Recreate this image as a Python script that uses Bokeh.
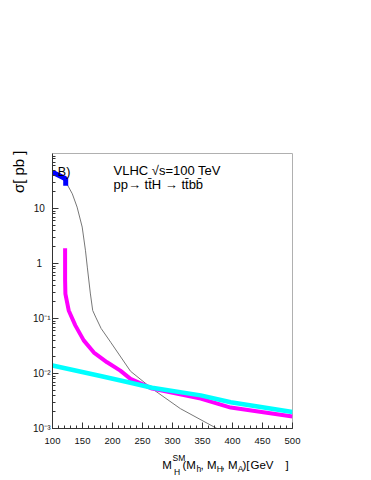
from bokeh.plotting import figure
from bokeh.models import Label, FixedTicker
from bokeh.embed import file_html
from bokeh.resources import INLINE
import math

# ---- data ----
m_sm = [100, 102, 116, 124, 133, 141, 149.5, 155, 158, 163, 167, 172, 181, 197, 230, 266, 313, 374, 390]
xs_sm = [50, 43, 35, 28, 18.5, 10.6, 4.6, 1.7, 0.86, 0.29, 0.14, 0.106, 0.066, 0.037, 0.011, 0.0053, 0.0023, 0.001, 0.0008]

m_blue = [100, 111, 120, 122, 122]
xs_blue = [45.7, 39.8, 35.5, 35.0, 26.0]

m_mag = [121, 121, 121.5, 127, 138, 152, 169, 191, 213, 230, 266, 347, 397, 500]
xs_mag = [1.9, 0.5, 0.28, 0.14, 0.075, 0.04, 0.024, 0.016, 0.0113, 0.008, 0.0053, 0.0035, 0.0024, 0.00165]

m_cyan = [100, 180, 230, 266, 347, 397, 500]
xs_cyan = [0.014, 0.009, 0.0068, 0.0055, 0.004, 0.003, 0.002]

x_ticks = [100, 150, 200, 250, 300, 350, 400, 450, 500]
y_ticks = [1e-3, 1e-2, 1e-1, 1, 10]
y_tick_labels = ["10\u207b\u00b3", "10\u207b\u00b2", "10\u207b\u00b9", "1\u00a0\u00a0\u00a0", "10\u00a0\u00a0"]

FONT = "Liberation Sans"

p = figure(width=370, height=478, x_range=(100, 500), y_range=(1e-3, 1e2),
           y_axis_type="log", output_backend="svg", toolbar_location=None,
           min_border_left=52, min_border_right=78, min_border_top=153, min_border_bottom=50)
p.grid.visible = False
p.outline_line_color = "#b0b0b0"
p.outline_line_width = 1
p.background_fill_color = "white"
p.border_fill_color = "white"

p.xaxis.ticker = FixedTicker(ticks=x_ticks, minor_ticks=list(range(100, 501, 10)))
minors = []
for e in range(-3, 2):
    for k in range(2, 10):
        minors.append(k * 10 ** e)
p.yaxis.ticker = FixedTicker(ticks=y_ticks, minor_ticks=minors)

for ax in (p.xaxis, p.yaxis):
    ax.axis_line_color = "#333333"
    ax.major_tick_line_color = "#333333"
    ax.minor_tick_line_color = "#333333"
    ax.major_tick_in = 6
    ax.major_tick_out = 0
    ax.minor_tick_in = 3
    ax.minor_tick_out = 0
    ax.major_label_text_font = FONT
    ax.major_label_text_color = "#111111"

p.xaxis.major_label_text_font_size = "9.5px"
p.xaxis.major_label_standoff = 9
p.yaxis.major_label_text_font_size = "10px"
p.yaxis.major_label_standoff = 2
overrides = {}
for v, t in zip(y_ticks, y_tick_labels):
    overrides[v] = t
    overrides[str(v)] = t
p.yaxis.major_label_overrides = overrides

p.line(m_sm, xs_sm, line_color="#777777", line_width=1)
p.line(m_mag, xs_mag, line_color="#ff00ff", line_width=4)
p.line(m_cyan, xs_cyan, line_color="#00ffff", line_width=4.5)
p.line(m_blue, xs_blue, line_color="#0000ff", line_width=5)

# helper: page-pixel position relative to frame corner (100, 1e-3) at page (52, 428)
def lab(text, px, py, size, align="left", baseline="alphabetic", angle=0.0, place="center"):
    p.add_layout(Label(x=100, y=1e-3, x_offset=px - 52, y_offset=428 - py, text=text,
                       text_font=FONT, text_font_size=size, text_align=align,
                       text_baseline=baseline, angle=angle, text_color="black"), place)

# y axis title
lab("\u03c3[ pb ]", 18, 150, "15px", align="right", baseline="middle", angle=math.pi / 2, place="left")

# x axis title (main pieces in the top panel, small pieces in the right panel; positions are data-anchored)
lab("M", 161.7, 464, "11.5px", place="above")
lab("SM", 172, 457, "8.5px", place="right")
lab("H", 173.5, 471.5, "8.5px", place="right")
lab("(M", 182, 464, "11.5px", place="above")
lab("h", 196, 468.5, "8.5px", place="right")
lab(", M", 200, 464, "11.5px", place="above")
lab("H", 216.3, 468.5, "8.5px", place="right")
lab(", M", 221, 464, "11.5px", place="above")
lab("A", 237.3, 468.5, "8.5px", place="right")
lab(")[", 242, 464, "11.5px", place="above")
lab("GeV", 250, 464, "11.5px", place="above")
lab("]", 285, 464, "11.5px", place="above")

# in-plot texts
lab("B)", 57.3, 171.7, "12.5px")
lab("VLHC \u221as=100 TeV", 113, 169.5, "13px")
lab("pp\u2192 tt\u0304H \u2192 tt\u0304bb\u0304", 113, 183.5, "13px")

open("out.html", "w").write(file_html(p, INLINE))
